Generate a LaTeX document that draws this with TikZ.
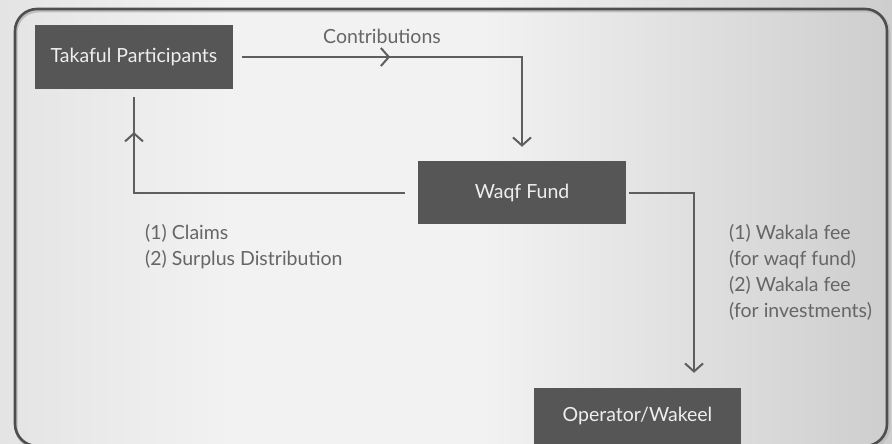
\documentclass[tikz,border=0pt]{standalone}
\usepackage{fontspec}
\setmainfont{Lato}
\usetikzlibrary{arrows.meta,decorations.markings}
\definecolor{boxfill}{HTML}{565656}
\definecolor{boxtext}{HTML}{EEEEEE}
\definecolor{linecol}{HTML}{5E5E5E}
\definecolor{labcol}{HTML}{666666}
\definecolor{framecol}{HTML}{4E4E4E}
\definecolor{bgL}{HTML}{C9C9C9}
\definecolor{bgM}{HTML}{F2F2F2}
\definecolor{bgR}{HTML}{A6A6A6}
\pgfdeclarehorizontalshading{bgshade}{100bp}{color(0bp)=(bgL); color(38bp)=(bgM); color(52bp)=(bgM); color(100bp)=(bgR)}
\tikzset{
  blockbox/.style={draw=none, fill=boxfill, text=boxtext, font=\fontsize{19.5}{22}\selectfont, inner sep=0pt},
  conn/.style={draw=linecol, line width=2pt, line join=miter},
  tipv/.tip={Straight Barb[length=8pt, width=18pt, line width=2pt]},
  midtip/.style={decoration={markings, mark=at position #1 with {\arrow{tipv}}}, postaction=decorate},
  lab/.style={text=labcol, font=\fontsize{19.5}{26}\selectfont, align=left, inner sep=0pt}
}
\begin{document}
\begin{tikzpicture}[x=1pt, y=-1pt]
\useasboundingbox (0,0) rectangle (892,444);
\shade[shading=bgshade] (0,0) rectangle (892,444);
% frame
\draw[draw=black!25, line width=3pt, rounded corners=22pt] (16,11) rectangle (889,448);
\draw[draw=framecol, line width=2.6pt, rounded corners=22pt] (15,9) rectangle (887,446);
% boxes
\node[blockbox, minimum width=198pt, minimum height=64pt] (tp) at (134,57) {Takaful Participants};
\node[blockbox, minimum width=208pt, minimum height=63pt] (wf) at (522,192.5) {Waqf Fund};
\node[blockbox, minimum width=207pt, minimum height=56pt] (op) at (637.5,416) {Operator/Wakeel};
% corner coordinates
\coordinate (k1) at (tp.east -| wf.north);
\coordinate (k2) at (wf.west -| tp.south);
\coordinate (k3) at (694,192.5);
% connectors
\draw[conn, shorten <=9pt, shorten >=14pt, -{tipv}] (tp.east) -- (k1) -- (wf.north);
\draw[conn, midtip=0.529] ([xshift=9pt]tp.east) -- (k1);
\draw[conn, shorten <=13pt, shorten >=8pt] (wf.west) -- (k2) -- (tp.south);
\draw[conn, midtip=0.634] (k2) -- ([yshift=-8pt]tp.south);
\draw[conn, shorten <=3pt, shorten >=15pt, -{tipv}] (wf.east) -- (k3) -- (k3 |- op.north);
% labels
\node[lab, anchor=base] (lc) at (382,44) {Contributions};
\node[lab, anchor=west] (lcl) at (145,247) {(1) Claims\\(2) Surplus Distribution};
\node[lab, anchor=west] (lwf) at (729,272) {(1) Wakala fee\\(for waqf fund)\\(2) Wakala fee\\(for investments)};
\end{tikzpicture}
\end{document}
